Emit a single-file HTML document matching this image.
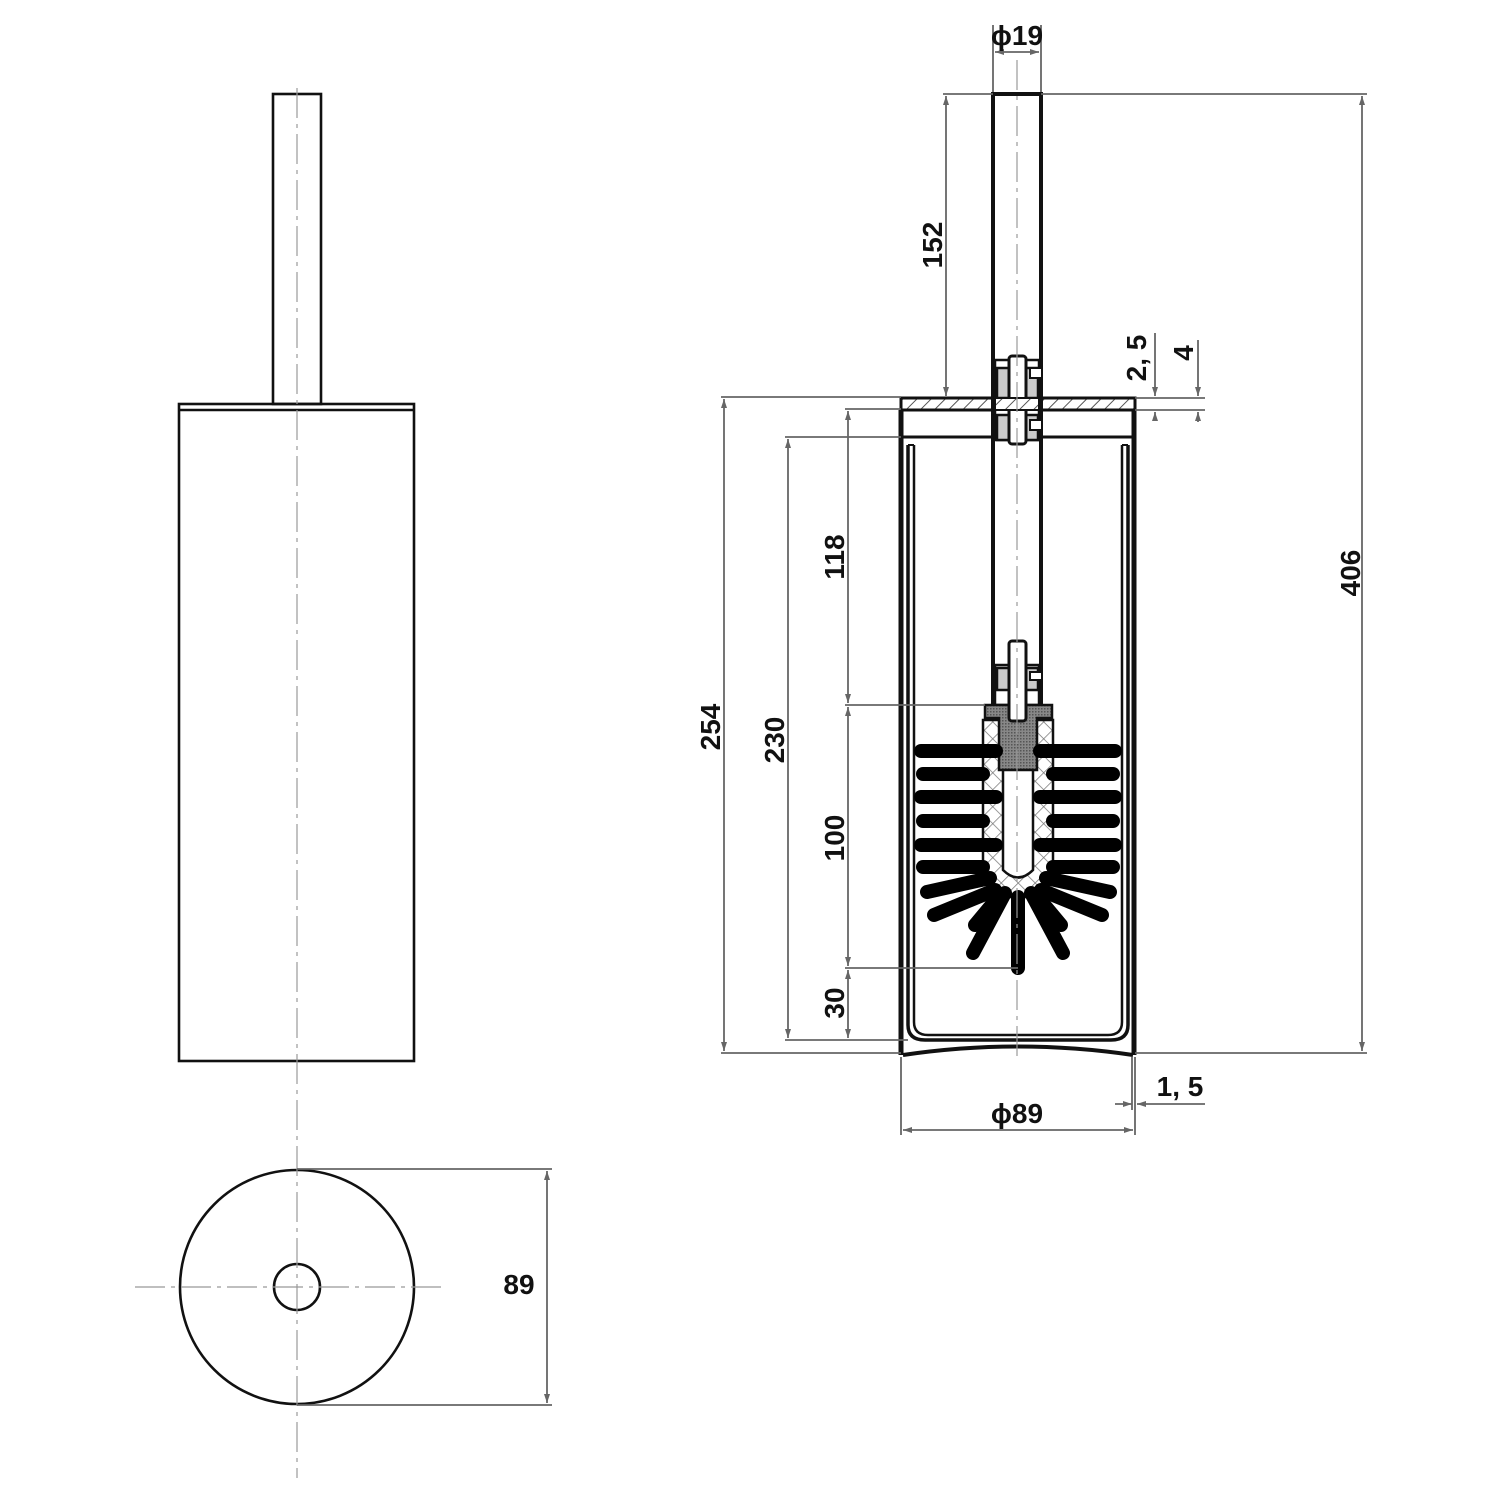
<!DOCTYPE html>
<html><head><meta charset="utf-8"><style>
html,body{margin:0;padding:0;background:#fff;}
svg{display:block}
text{font-family:"Liberation Sans",sans-serif;font-weight:bold;font-size:28px;fill:#111}
</style></head><body>
<svg width="1500" height="1500" viewBox="0 0 1500 1500" xmlns="http://www.w3.org/2000/svg">
<defs>
<pattern id="hatch" width="10" height="10" patternUnits="userSpaceOnUse" patternTransform="rotate(45)">
<rect width="10" height="10" fill="#fff"/><line x1="0" y1="0" x2="0" y2="10" stroke="#555" stroke-width="2"/></pattern>
<pattern id="cross" width="12" height="12" patternUnits="userSpaceOnUse" patternTransform="rotate(45)">
<rect width="12" height="12" fill="#fff"/><path d="M0 0V12M0 0H12" stroke="#777" stroke-width="1.5"/></pattern>
<pattern id="dots" width="3" height="3" patternUnits="userSpaceOnUse"><rect width="3" height="3" fill="#888"/><rect width="1.5" height="1.5" fill="#555"/></pattern>
<marker id="ar" markerWidth="10" markerHeight="8" refX="9" refY="4" orient="auto-start-reverse" markerUnits="userSpaceOnUse"><path d="M0 1L9 4L0 7z" fill="#666"/></marker>
</defs>

<!-- LEFT VIEW -->
<g stroke="#111" stroke-width="2.6" fill="none">
<rect x="273" y="94" width="48" height="310"/>
<rect x="179" y="404" width="235" height="657"/>
<line x1="179" y1="410" x2="414" y2="410"/>
<circle cx="297" cy="1287" r="117"/>
<circle cx="297" cy="1287" r="23"/>
</g>
<g stroke="#999" stroke-width="1.2" stroke-dasharray="30,6,4,6">
<line x1="297" y1="88" x2="297" y2="1478"/>
<line x1="135" y1="1287" x2="442" y2="1287"/>
</g>
<g stroke="#666" stroke-width="1.8" fill="none">
<line x1="297" y1="1169" x2="552" y2="1169"/>
<line x1="297" y1="1405" x2="552" y2="1405"/>
<line x1="547" y1="1171" x2="547" y2="1403" marker-start="url(#ar)" marker-end="url(#ar)"/>
</g>
<text x="519" y="1294" text-anchor="middle">89</text>

<!-- RIGHT VIEW -->
<g stroke="#111" fill="none">
<rect x="901" y="398" width="234" height="12" fill="url(#hatch)" stroke-width="3"/>
<line x1="901" y1="410" x2="901" y2="1055" stroke-width="5"/>
<line x1="1134" y1="410" x2="1134" y2="1055" stroke-width="5"/>
<line x1="901" y1="437" x2="1135" y2="437" stroke-width="3"/>
<path d="M903 1055 Q1018 1038 1133 1055" stroke-width="4"/>
<path d="M908 445 V1025 Q908 1040 925 1040 H1111 Q1128 1040 1128 1025 V445" stroke-width="3.5"/>
<path d="M914 445 V1022 Q914 1035 928 1035 H1108 Q1122 1035 1122 1022 V445" stroke-width="2.5"/>
<line x1="908" y1="445" x2="914" y2="445" stroke-width="2"/>
<line x1="1122" y1="445" x2="1128" y2="445" stroke-width="2"/>
<rect x="993" y="94" width="48" height="611" fill="#fff" stroke-width="4"/>
</g>
<g stroke="#111" stroke-width="2.5">
<rect x="995" y="360" width="44" height="80" fill="#fff"/>
<rect x="997" y="368" width="12" height="30" fill="#ccc"/>
<rect x="1026" y="368" width="12" height="30" fill="#ccc"/>
<rect x="997" y="415" width="12" height="25" fill="#ccc"/>
<rect x="1026" y="415" width="12" height="25" fill="#ccc"/>
<rect x="1009" y="356" width="17" height="88" rx="3" fill="#fff" stroke-width="3"/>
<rect x="995" y="398" width="44" height="12" fill="url(#hatch)" stroke-width="2"/>
<rect x="1030" y="368" width="12" height="10" fill="#fff" stroke-width="2"/>
<rect x="1030" y="420" width="12" height="10" fill="#fff" stroke-width="2"/>
</g>
<g stroke="#111" stroke-width="2.5">
<rect x="995" y="665" width="44" height="40" fill="#fff"/>
<rect x="997" y="668" width="12" height="22" fill="#ccc"/>
<rect x="1026" y="668" width="12" height="22" fill="#ccc"/>
<rect x="1030" y="672" width="12" height="8" fill="#fff" stroke-width="2"/>
</g>
<path d="M983 720 H1053 V870 Q1053 895 1018 898 Q983 895 983 870 Z" fill="url(#cross)" stroke="#111" stroke-width="2.5"/>
<path d="M985 705 H1052 V718 H1037 V770 H999 V718 H985 Z" fill="url(#dots)" stroke="#111" stroke-width="2.5"/>
<rect x="1009" y="641" width="17" height="80" rx="3" fill="#fff" stroke="#111" stroke-width="3"/>
<path d="M1003 770 H1033 V870 Q1018 885 1003 870 Z" fill="#fff" stroke="#111" stroke-width="2.5"/>
<g stroke="#000" stroke-width="14" stroke-linecap="round">
<line x1="921" y1="751" x2="996" y2="751"/><line x1="1040" y1="751" x2="1115" y2="751"/>
<line x1="923" y1="774" x2="983" y2="774"/><line x1="1053" y1="774" x2="1113" y2="774"/>
<line x1="921" y1="797" x2="996" y2="797"/><line x1="1040" y1="797" x2="1115" y2="797"/>
<line x1="923" y1="821" x2="983" y2="821"/><line x1="1053" y1="821" x2="1113" y2="821"/>
<line x1="921" y1="845" x2="996" y2="845"/><line x1="1040" y1="845" x2="1115" y2="845"/>
<line x1="923" y1="867" x2="983" y2="867"/><line x1="1053" y1="867" x2="1113" y2="867"/>
<line x1="927" y1="892" x2="990" y2="878"/><line x1="1046" y1="878" x2="1110" y2="892"/>
<line x1="934" y1="915" x2="995" y2="890"/><line x1="1041" y1="890" x2="1102" y2="915"/>
<line x1="975" y1="925" x2="1000" y2="895"/><line x1="1036" y1="895" x2="1061" y2="925"/>
<line x1="973" y1="953" x2="1005" y2="893"/><line x1="1031" y1="893" x2="1063" y2="953"/>
<line x1="1018" y1="897" x2="1018" y2="968"/>
</g>
<g stroke="#999" stroke-width="1.2" stroke-dasharray="30,6,4,6">
<line x1="1017" y1="60" x2="1017" y2="1060"/>
</g>

<g stroke="#666" stroke-width="1.8" fill="none">
<line x1="993" y1="25" x2="993" y2="92"/><line x1="1041" y1="25" x2="1041" y2="92"/>
<line x1="995" y1="52" x2="1039" y2="52" marker-start="url(#ar)" marker-end="url(#ar)"/>
<line x1="1041" y1="94" x2="1367" y2="94"/>
<line x1="1135" y1="1053" x2="1367" y2="1053"/>
<line x1="1362" y1="96" x2="1362" y2="1051" marker-start="url(#ar)" marker-end="url(#ar)"/>
<line x1="943" y1="94" x2="993" y2="94"/>
<line x1="946" y1="96" x2="946" y2="396" marker-start="url(#ar)" marker-end="url(#ar)"/>
<line x1="721" y1="397" x2="901" y2="397"/>
<line x1="721" y1="1053" x2="901" y2="1053"/>
<line x1="724" y1="399" x2="724" y2="1051" marker-start="url(#ar)" marker-end="url(#ar)"/>
<line x1="785" y1="437" x2="901" y2="437"/>
<line x1="785" y1="1040" x2="908" y2="1040"/>
<line x1="788" y1="439" x2="788" y2="1038" marker-start="url(#ar)" marker-end="url(#ar)"/>
<line x1="845" y1="409" x2="901" y2="409"/>
<line x1="845" y1="705" x2="985" y2="705"/>
<line x1="845" y1="968" x2="1018" y2="968"/>
<line x1="848" y1="411" x2="848" y2="703" marker-start="url(#ar)" marker-end="url(#ar)"/>
<line x1="848" y1="707" x2="848" y2="966" marker-start="url(#ar)" marker-end="url(#ar)"/>
<line x1="848" y1="970" x2="848" y2="1038" marker-start="url(#ar)" marker-end="url(#ar)"/>
<line x1="1135" y1="398" x2="1205" y2="398"/>
<line x1="1135" y1="410" x2="1205" y2="410"/>
<line x1="1155" y1="333" x2="1155" y2="396" marker-end="url(#ar)"/>
<line x1="1155" y1="420" x2="1155" y2="412" marker-end="url(#ar)"/>
<line x1="1198" y1="340" x2="1198" y2="396" marker-end="url(#ar)"/>
<line x1="1198" y1="422" x2="1198" y2="412" marker-end="url(#ar)"/>
<line x1="901" y1="1057" x2="901" y2="1135"/>
<line x1="1135" y1="1057" x2="1135" y2="1135"/>
<line x1="903" y1="1130" x2="1133" y2="1130" marker-start="url(#ar)" marker-end="url(#ar)"/>
<line x1="1115" y1="1104" x2="1132" y2="1104" marker-end="url(#ar)"/>
<line x1="1205" y1="1104" x2="1137" y2="1104" marker-end="url(#ar)"/>
<line x1="1132" y1="1057" x2="1132" y2="1110"/>
</g>
<text x="1017" y="45" text-anchor="middle">ϕ19</text>
<text x="1017" y="1123" text-anchor="middle">ϕ89</text>
<text x="1180" y="1096" text-anchor="middle">1, 5</text>
<text transform="translate(1360,573) rotate(-90)" text-anchor="middle">406</text>
<text transform="translate(942,245) rotate(-90)" text-anchor="middle">152</text>
<text transform="translate(720,727) rotate(-90)" text-anchor="middle">254</text>
<text transform="translate(784,740) rotate(-90)" text-anchor="middle">230</text>
<text transform="translate(844,557) rotate(-90)" text-anchor="middle">118</text>
<text transform="translate(844,838) rotate(-90)" text-anchor="middle">100</text>
<text transform="translate(844,1003) rotate(-90)" text-anchor="middle">30</text>
<text transform="translate(1146,358) rotate(-90)" text-anchor="middle">2, 5</text>
<text transform="translate(1193,353) rotate(-90)" text-anchor="middle">4</text>
</svg>
</body></html>
